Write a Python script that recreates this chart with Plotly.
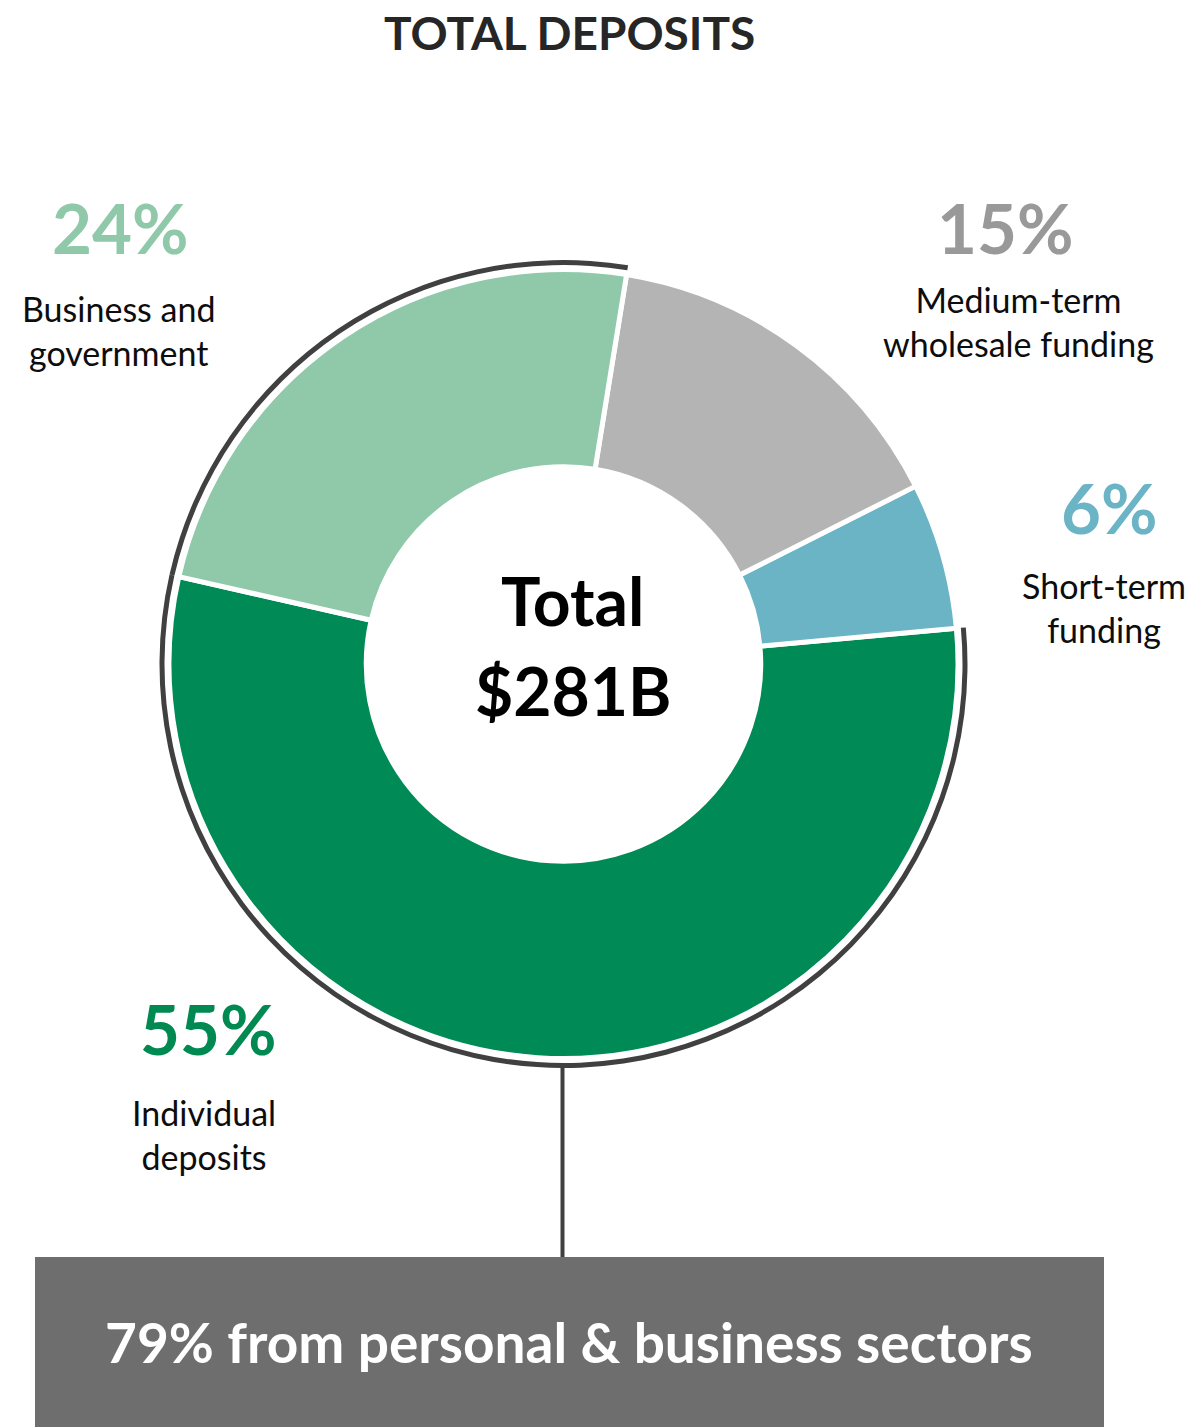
import plotly.graph_objects as go

W, H = 1194, 1427

# ---- data ----
categories = ["Individual deposits", "Short-term funding",
              "Medium-term wholesale funding", "Business and government"]
shares = [55, 6, 15, 24]
label_lines = ["Individual<br>deposits", "Short-term<br>funding",
               "Medium-term<br>wholesale funding", "Business and<br>government"]
personal_business = ["Individual deposits", "Business and government"]
total_label = "Total"
total_value = "$281B"
title_text = "TOTAL DEPOSITS"

# ---- styles ----
slice_colors = ["#008A55", "#6AB4C6", "#B4B4B4", "#8FC9A9"]
pct_colors = ["#008A52", "#6AB4C6", "#999999", "#8FC9A9"]
FONT = "Lato"

# geometry (pixels)
CX, CY = 563.5, 664
R_MAIN = 394.5
HOLE = 0.5
R_RING = 404
RING_W = 5
ROT = 84.8   # boundary between first (Individual) and second slice


def px(x):
    return x / W


def py(y):
    return 1 - y / H


def dom(r):
    return dict(x=[px(CX - r), px(CX + r)], y=[py(CY + r), py(CY - r)])


fig = go.Figure()

# outer ring around personal & business slices
ring_colors = ["#404040" if c in personal_business else "rgba(0,0,0,0)" for c in categories]
fig.add_trace(go.Pie(
    labels=categories, values=shares, sort=False, direction="counterclockwise",
    rotation=ROT, hole=(R_RING - RING_W) / R_RING, domain=dom(R_RING),
    marker=dict(colors=ring_colors, line=dict(width=0)),
    textinfo="none", hoverinfo="skip", showlegend=False,
))

fig.add_trace(go.Pie(
    labels=categories, values=shares, sort=False, direction="counterclockwise",
    rotation=ROT, hole=HOLE, domain=dom(R_MAIN),
    marker=dict(colors=slice_colors, line=dict(color="white", width=5)),
    textinfo="none", hoverinfo="label+percent", showlegend=False,
))

annotations = []
# title
annotations.append(dict(x=px(569), y=py(32), text=f"<b>{title_text}</b>",
                        font=dict(family=FONT, size=46, color="#262626")))
# center text
annotations.append(dict(x=px(572), y=py(600), text=f"<b>{total_label}</b>",
                        font=dict(family=FONT, size=66, color="#000000")))
annotations.append(dict(x=px(573), y=py(690), text=f"<b>{total_value}</b>",
                        font=dict(family=FONT, size=66, color="#000000")))

pct_pos = [(208, 1028), (1109, 508), (1006, 227), (120, 227)]
lbl_pos = [(204, 1134), (1104, 608), (1018, 321), (118, 331)]
for i, c in enumerate(categories):
    annotations.append(dict(x=px(pct_pos[i][0]), y=py(pct_pos[i][1]),
                            text=f"<b>{shares[i]}%</b>",
                            font=dict(family=FONT, size=69, color=pct_colors[i])))
    annotations.append(dict(x=px(lbl_pos[i][0]), y=py(lbl_pos[i][1]),
                            text=label_lines[i],
                            font=dict(family=FONT, size=34, color="#0D0D0D")))

# callout box text
pb_share = sum(s for s, c in zip(shares, categories) if c in personal_business)
annotations.append(dict(x=px(569), y=py(1342),
                        text=f"<b>{pb_share}% from personal & business sectors</b>",
                        font=dict(family=FONT, size=55, color="#FFFFFF")))

for a in annotations:
    a.update(xref="paper", yref="paper", showarrow=False,
             xanchor="center", yanchor="middle")

shapes = [
    dict(type="rect", xref="paper", yref="paper",
         x0=px(35), x1=px(1104), y0=py(1440), y1=py(1257),
         fillcolor="#6E6E6E", line=dict(width=0), layer="below"),
    dict(type="line", xref="paper", yref="paper",
         x0=px(CX - 1), x1=px(CX - 1), y0=py(CY + R_RING - 2), y1=py(1257),
         line=dict(color="#404040", width=4)),
]

fig.update_layout(
    width=W, height=H, autosize=False,
    margin=dict(l=0, r=0, t=0, b=0, pad=0),
    paper_bgcolor="white", plot_bgcolor="white",
    annotations=annotations, shapes=shapes,
    font=dict(family=FONT),
)

fig.write_html("out.html", config={"displayModeBar": False},
               post_script="document.body.style.margin='0';document.body.style.overflow='hidden';")
